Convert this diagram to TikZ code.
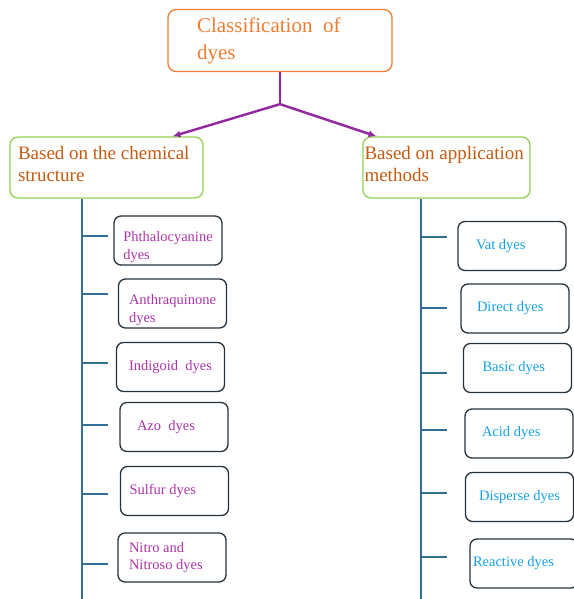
\documentclass[tikz,border=0pt]{standalone}
\usepackage{fontspec}
\setmainfont{Liberation Serif}
\usepackage{tikz}
\usetikzlibrary{arrows.meta}
\definecolor{titleorange}{RGB}{237,125,49}
\definecolor{headred}{RGB}{197,90,17}
\definecolor{headgreen}{RGB}{146,208,80}
\definecolor{forkpurple}{RGB}{146,38,160}
\definecolor{spineblue}{RGB}{50,110,150}
\definecolor{boxgray}{RGB}{38,50,60}
\definecolor{structpink}{RGB}{172,52,168}
\definecolor{methodcyan}{RGB}{20,160,230}
\tikzset{>={Latex[length=8pt,width=7pt]}}
\tikzset{
  titlebox/.style={draw=titleorange, line width=1.3pt, rounded corners=8pt, text=titleorange,
    font=\fontsize{21}{27}\selectfont, align=flush left, minimum height=62pt, inner ysep=0pt},
  headbox/.style={draw=headgreen, line width=1.3pt, rounded corners=8pt, text=headred,
    font=\fontsize{19}{22}\selectfont, align=flush left, minimum height=61pt, inner ysep=0pt, text depth=30pt},
  dyebox/.style={draw=boxgray, line width=1.3pt, rounded corners=7pt,
    font=\fontsize{14.5}{17.5}\selectfont, align=flush left, minimum width=108pt, minimum height=49pt},
  dyepad/.style 2 args={inner xsep=#1, text width=#2},
  sunk/.style={text height=37pt, text depth=0pt},
  spine/.style={draw=spineblue, line width=1.4pt},
  fork/.style={draw=forkpurple, line width=2.4pt},
}

\begin{document}
\begin{tikzpicture}[x=1pt,y=-1pt]
\useasboundingbox (0,0) rectangle (573,599);

% Top box
\node[titlebox, text width=166pt, inner xsep=29pt] (cls) at (280,40.5) {Classification~ of\\dyes};

% Branch boxes
\node[headbox, text width=177pt, inner xsep=8pt] (chem) at (106.5,167.5) {Based on the chemical\\structure};
\node[headbox, text width=164pt, inner xsep=1.5pt] (appl) at (446.5,167.5) {Based on application\\methods};

% Fork
\coordinate (split) at ([yshift=-32pt]cls.south);
\draw[fork] (cls.south) -- (split);
\draw[fork,->] (split) -- ([xshift=66pt]chem.north);   % to chemical structure
\draw[fork,->] (split) -- ([xshift=-70pt]appl.north);  % to application methods

% Spines
\coordinate (lbot) at (82,599);
\coordinate (rbot) at (421,599);
\draw[spine] (lbot |- chem.south) -- (lbot);
\draw[spine] (rbot |- appl.south) -- (rbot);

% Chemical structure classes
\node[dyebox, sunk, text=structpink] (phth) at (168,240.5) {Phthalocyanine\\dyes};
\node[dyebox, sunk, text=structpink] (anth) at (172.5,303.5) {Anthraquinone\\dyes};
\node[dyebox, text=structpink] (indi) at (170.5,367) {Indigoid~ dyes};
\node[dyebox, dyepad={17pt}{74pt}, text=structpink] (azo) at (174,427) {Azo~ dyes};
\node[dyebox, dyepad={9pt}{90pt}, text=structpink] (sulf) at (174.5,491) {Sulfur dyes};
\node[dyebox, dyepad={11pt}{86pt}, text=structpink] (nitr) at (172,557.5) {Nitro and\\Nitroso dyes};

% ticks (hand placed, not quite at box centres)
\draw[spine] (lbot |- phth.west) ++(0,-4.5) -- ++(26,0);
\draw[spine] (lbot |- anth.west) ++(0,-9.5) -- ++(26,0);
\draw[spine] (lbot |- indi.west) ++(0,-4) -- ++(26,0);
\draw[spine] (lbot |- azo.west) ++(0,-2) -- ++(26,0);
\draw[spine] (lbot |- sulf.west) ++(0,3) -- ++(26,0);
\draw[spine] (lbot |- nitr.west) ++(0,6.5) -- ++(26,0);

% Application classes
\node[dyebox, dyepad={18pt}{72pt}, text=methodcyan] (vat) at (512,246) {Vat dyes};
\node[dyebox, dyepad={16pt}{76pt}, text=methodcyan] (dire) at (515,308.5) {Direct dyes};
\node[dyebox, dyepad={19pt}{70pt}, text=methodcyan] (basi) at (517.5,368) {Basic dyes};
\node[dyebox, dyepad={17pt}{74pt}, text=methodcyan] (acid) at (519,433.5) {Acid dyes};
\node[dyebox, text=methodcyan] (disp) at (519.5,497) {Disperse dyes};
\node[dyebox, dyepad={3pt}{102pt}, text=methodcyan] (reac) at (524,563.5) {Reactive dyes};

\draw[spine] (rbot |- vat.west) ++(0,-9) -- ++(26,0);
\draw[spine] (rbot |- dire.west) ++(0,-0.5) -- ++(26,0);
\draw[spine] (rbot |- basi.west) ++(0,5) -- ++(26,0);
\draw[spine] (rbot |- acid.west) ++(0,-3.5) -- ++(26,0);
\draw[spine] (rbot |- disp.west) ++(0,-4) -- ++(26,0);
\draw[spine] (rbot |- reac.west) ++(0,-6.5) -- ++(26,0);

\end{tikzpicture}
\end{document}
